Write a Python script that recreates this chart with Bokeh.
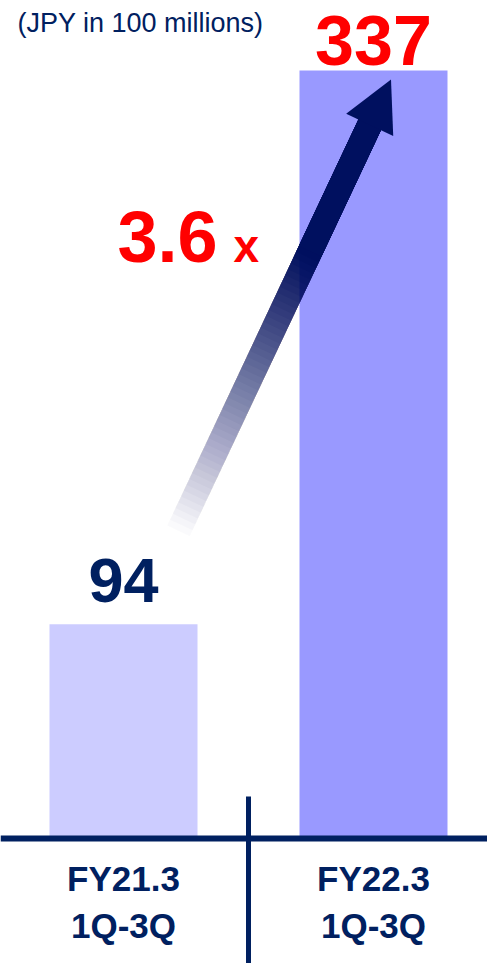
import numpy as np
from bokeh.plotting import figure
from bokeh.models import Range1d, Span
from bokeh.core.properties import value
from bokeh.embed import file_html
from bokeh.resources import INLINE

# ---- data ----
categories_line1 = ["FY21.3", "FY22.3"]
categories_line2 = ["1Q-3Q", "1Q-3Q"]
values = [94, 337]
value_labels = ["94", "337"]
bar_colors = ["#CCCCFF", "#9999FF"]
value_colors = ["#002060", "#FF0000"]
growth_label = "3.6"
unit_label = "(JPY in 100 millions)"

NAVY = "#002060"
ARROW = "#00105F"
RED = "#FF0000"
FONT = "Liberation Sans"

W, H = 487, 963
PX = 2.279        # pixels per data unit (vertical)
XS = 250.0        # pixels per category step
X0 = 123.0        # pixel x of first category
BASE = 838.0      # pixel y of zero line
SHIFT = 0.35      # baseline correction (em)

def to_data(px, py):
    return (np.asarray(px) - X0) / XS, (BASE - np.asarray(py)) / PX

def to_px(x, y):
    return np.asarray(x) * XS + X0, BASE - np.asarray(y) * PX

def up(size):
    return SHIFT * size / PX

p = figure(width=W, height=H, output_backend="svg", toolbar_location=None,
           x_range=Range1d(-X0 / XS, (W - X0) / XS),
           y_range=Range1d(-(H - BASE) / PX, BASE / PX),
           x_axis_type=None, y_axis_type=None, min_border=0)
p.grid.visible = False
p.outline_line_color = None
p.background_fill_color = "white"
p.border_fill_color = "white"

xs = list(range(len(values)))

# bars
p.vbar(x=xs, top=values, bottom=0, width=148 / XS, fill_color=bar_colors, line_color=None)

# baseline and separator
p.add_layout(Span(location=0, dimension="width", line_color=NAVY, line_width=6))
sep_x = (xs[0] + xs[1]) / 2
p.segment(x0=[sep_x], y0=[(BASE - 796) / PX], x1=[sep_x], y1=[-(H - BASE) / PX - 5],
          line_color=NAVY, line_width=5)

# category labels
p.text(x=xs, y=[-52 / PX + up(35)] * 2, text=categories_line1, text_align="center",
       text_baseline="alphabetic", text_font=value(FONT), text_font_style="bold",
       text_font_size="35px", text_color=NAVY)
p.text(x=xs, y=[-99 / PX + up(35)] * 2, text=categories_line2, text_align="center",
       text_baseline="alphabetic", text_font=value(FONT), text_font_style="bold",
       text_font_size="35px", text_color=NAVY)

# value labels
p.text(x=[xs[0]], y=[values[0] + 22 / PX + up(63)], text=[value_labels[0]], text_align="center",
       text_baseline="alphabetic", text_font=value(FONT), text_font_style="bold",
       text_font_size="63px", text_color=value_colors[0])
p.text(x=[xs[1]], y=[values[1] + 5 / PX + up(70)], text=[value_labels[1]], text_align="center",
       text_baseline="alphabetic", text_font=value(FONT), text_font_style="bold",
       text_font_size="70px", text_color=value_colors[1])

# unit label
ux, uy = to_data(17, 32)
p.text(x=[ux], y=[uy + up(27)], text=[unit_label], text_align="left", text_baseline="alphabetic",
       text_font=value(FONT), text_font_size="27px", text_color=NAVY)

# growth arrow (from above bar 1 to top of bar 2)
ARROW_FROM = (0.22, 135.0)
ARROW_TO = (1.07, 333.0)
sx, sy = to_px(*ARROW_FROM)
tx, ty = to_px(*ARROW_TO)
d = np.array([tx - sx, ty - sy])
L = np.hypot(*d)
u = d / L
n = np.array([-u[1], u[0]])
head_len = 50.0
head_half = 26.0
shaft_half = 12.5
shaft_len = L - head_len + 2
S = np.array([sx, sy])
E = S + u * shaft_len

N = 70
full_at = 0.69
def A(f):
    return min(1.0, max(0.0, f / full_at))

qx, qy, qa = [], [], []
for j in range(N):
    f0 = j / N
    f1 = (j + 1) / N
    a0, a1 = A(f0), A(f1)
    if a0 >= 1.0:
        break
    aj = 1.0 - (1.0 - a1) / (1.0 - a0)
    if aj <= 0:
        continue
    a = S + u * shaft_len * f0
    pts = [a + n * shaft_half, E + n * shaft_half, E - n * shaft_half, a - n * shaft_half]
    dx_, dy_ = to_data([q[0] for q in pts], [q[1] for q in pts])
    qx.append(list(dx_))
    qy.append(list(dy_))
    qa.append(float(aj))
p.patches(xs=qx, ys=qy, fill_color=ARROW, fill_alpha=qa, line_color=None)

T = np.array([tx, ty])
B = T - u * head_len
head = [T, B + n * head_half, B - n * head_half]
hx, hy = to_data([q[0] for q in head], [q[1] for q in head])
p.patch(x=list(hx), y=list(hy), fill_color=ARROW, line_color=None)

# growth multiple
gx, gy = to_data(117, 262)
p.text(x=[gx], y=[gy + up(72)], text=[growth_label], text_align="left", text_baseline="alphabetic",
       text_font=value(FONT), text_font_style="bold", text_font_size="72px", text_color=RED)
xx, xy = to_data(233, 262)
p.text(x=[xx], y=[xy + up(46)], text=["x"], text_align="left", text_baseline="alphabetic",
       text_font=value(FONT), text_font_style="bold", text_font_size="46px", text_color=RED)

open("out.html", "w").write(file_html(p, INLINE))
